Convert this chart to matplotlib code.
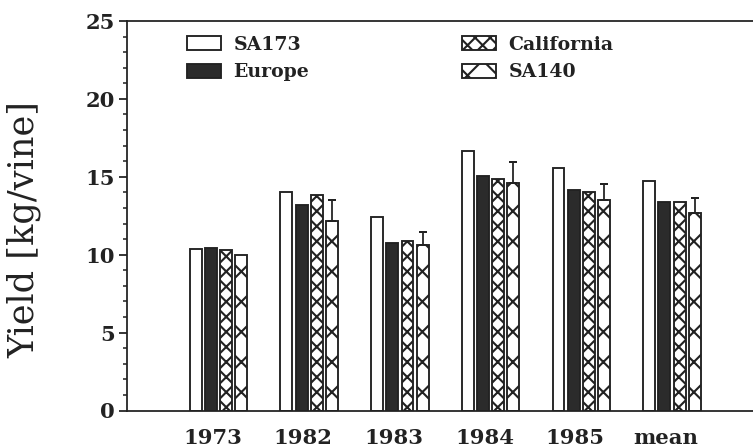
import matplotlib
matplotlib.use("Agg")
import matplotlib.pyplot as plt
import matplotlib.transforms as mtransforms
import numpy as np

categories = ["1973", "1982", "1983", "1984", "1985", "mean"]
series_names = ["SA173", "Europe", "California", "SA140"]
sa173 = [10.35, 14.0, 12.45, 16.65, 15.55, 14.7]
europe = [10.45, 13.2, 10.75, 15.05, 14.15, 13.4]
california = [10.3, 13.8, 10.85, 14.85, 14.0, 13.4]
sa140 = [10.0, 12.15, 10.6, 14.6, 13.5, 12.7]
sa140_err = [0.0, 1.35, 0.85, 1.35, 1.05, 0.95]

DPI = 181.4
F = 160 / DPI
plt.rcParams["hatch.linewidth"] = 0.95 * F
fig = plt.figure(figsize=(753 / DPI, 448 / DPI), dpi=DPI)
ax = fig.add_axes([127 / 753, 1 - 410.5 / 448, 1 - 127 / 753, (410.5 - 21) / 448])

ink = "#222222"
x = np.arange(len(categories))
pitch = 0.1676
width = 0.132
styles = [
    dict(facecolor="white", hatch=None),
    dict(facecolor="#2b2b2b", hatch=None),
    dict(facecolor="white", hatch="xxxx"),
    dict(facecolor="white", hatch="xx"),
]
values = [sa173, europe, california, sa140]
handles = []
for k, (vals, st) in enumerate(zip(values, styles)):
    b = ax.bar(x + (k - 1.5) * pitch, vals, width, facecolor=st["facecolor"],
               edgecolor=ink, linewidth=0.85 * F, hatch=st["hatch"], zorder=2,
               label=series_names[k])
    handles.append(b)

err = np.array(sa140_err)
mask = err > 0
ax.errorbar((x + 1.5 * pitch)[mask], np.array(sa140)[mask],
            yerr=[np.zeros(mask.sum()), err[mask]], fmt="none",
            ecolor=ink, elinewidth=0.8 * F, capsize=1.7 * F, capthick=0.9 * F, zorder=3)

ax.set_xlim(-1.009, 5.893)
ax.set_ylim(0, 25)
ax.set_yticks(np.arange(0, 26, 5))
ax.set_yticks(np.arange(0, 26, 1), minor=True)
ax.set_xticks(x)
ax.set_xticklabels(categories)
ax.tick_params(axis="x", length=0, pad=8 * F, labelsize=9.5 * F, colors=ink)
ax.tick_params(axis="y", which="major", length=3.5 * F, width=0.8 * F, pad=2 * F,
               labelsize=9.5 * F, colors=ink, direction="out")
ax.tick_params(axis="y", which="minor", length=1.8 * F, width=0.7 * F,
               direction="out", colors=ink)
for lab in ax.get_xticklabels() + ax.get_yticklabels():
    lab.set_fontfamily("DejaVu Serif")
    lab.set_fontweight("bold")
offset = mtransforms.ScaledTranslation(-6 / DPI, 0, fig.dpi_scale_trans)
for lab in ax.get_xticklabels():
    lab.set_transform(lab.get_transform() + offset)

for s in ["left", "top", "bottom"]:
    ax.spines[s].set_linewidth(0.8 * F)
    ax.spines[s].set_color(ink)
ax.spines["right"].set_visible(False)

ax.set_ylabel("Yield [kg/vine]", fontfamily="DejaVu Serif", fontsize=15.8 * F,
              color=ink)
ax.yaxis.set_label_coords((41 - 127) / 626, (410.5 - 230) / 389.5)

legfont = dict(family="DejaVu Serif", weight="bold", size=8.5 * F)
common = dict(loc="upper left", frameon=False, prop=legfont, handlelength=1.8,
              handleheight=0.75, handletextpad=0.65, labelspacing=0.5,
              labelcolor=ink, borderpad=0, borderaxespad=0)
leg1 = ax.legend(handles[:2], series_names[:2],
                 bbox_to_anchor=((187 - 127) / 626, (410.5 - 36) / 389.5), **common)
ax.add_artist(leg1)
ax.legend(handles[2:], series_names[2:],
          bbox_to_anchor=((462 - 127) / 626, (410.5 - 36) / 389.5), **common)

fig.savefig("out.png", dpi=DPI)
